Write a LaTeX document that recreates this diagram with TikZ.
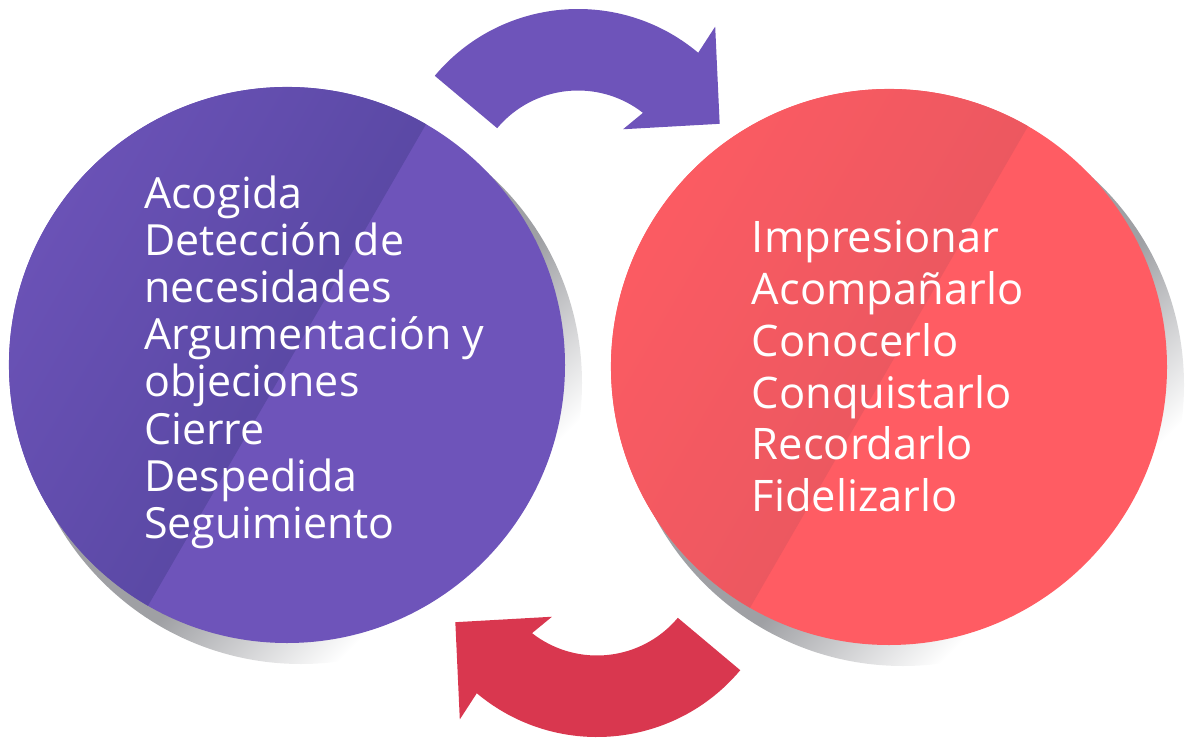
\documentclass[tikz,border=0pt]{standalone}
\usepackage{fontspec}
\setmainfont{Open Sans}
\usetikzlibrary{calc}

\definecolor{violetmain}{HTML}{6E54BA}
\definecolor{violetdark}{HTML}{52449C}
\definecolor{coralmain}{HTML}{FF5C63}
\definecolor{coraldark}{HTML}{E4565F}
\definecolor{crimsonarrow}{HTML}{D9374F}
\definecolor{shadowgray}{HTML}{9FA0A4}

\pgfdeclareverticalshading{shadowfade}{100bp}{color(0bp)=(white); color(30bp)=(white); color(44bp)=(shadowgray); color(100bp)=(shadowgray)}

\tikzset{every picture/.style={line width=0.75pt}}
\tikzset{
  discshadow/.style={shading=shadowfade, shading angle=45},
  listtext/.style={anchor=north west, inner sep=0pt, align=left, text=white},
}

\begin{document}
\begin{tikzpicture}[x=0.75pt,y=0.75pt,yscale=-1,xscale=1]
		\useasboundingbox (0,0) rectangle (1200,749);
		
		\coordinate (lc) at (287,365);
		\coordinate (rc) at (889,367);
		\coordinate (ta) at (578,196);
		\coordinate (ba) at (597,550);
		
		%Shape: Shadows
		\shade [discshadow] ($(lc)+(14,18)$) circle [radius=281];
		\shade [discshadow] ($(rc)+(14,18)$) circle [radius=281];
		
		%Shape: Circle left
		\fill [violetmain] (lc) circle [radius=278];
		\shade [top color=violetmain, bottom color=violetdark, shading angle=60] ($(lc)+(-60:278)$) arc [start angle=-60, end angle=-240, radius=278] -- cycle;
		%Shape: Circle right
		\fill [coralmain] (rc) circle [radius=278];
		\shade [top color=coralmain, bottom color=coraldark, shading angle=60] ($(rc)+(-60:278)$) arc [start angle=-60, end angle=-240, radius=278] -- cycle;
		
		%Shape: Arc arrow top
		\fill [violetmain] ($(ta)+(-140:187)$) arc [start angle=-140, end angle=-50, radius=187] -- ($(ta)+(-51:218)$) -- ($(ta)+(-27:159)$) -- ($(ta)+(-56:80.5)$) -- ($(ta)+(-52:105.5)$) arc [start angle=-52, end angle=-140, radius=105.5] -- cycle;
		%Shape: Arc arrow bottom
		\fill [crimsonarrow] ($(ba)+(40:187)$) arc [start angle=40, end angle=130, radius=187] -- ($(ba)+(129:218)$) -- ($(ba)+(153:159)$) -- ($(ba)+(124:80.5)$) -- ($(ba)+(128:105.5)$) arc [start angle=128, end angle=40, radius=105.5] -- cycle;
		
		\node [listtext, font=\fontsize{32.2}{35.3}\selectfont] (steps) at (143.7,175.6) {Acogida\\Detección de\\necesidades\\Argumentación y\\objeciones\\Cierre\\Despedida\\Seguimiento};
		\node [listtext, font=\fontsize{32.6}{38.85}\selectfont] (goals) at (751.4,220.3) {Impresionar\\Acompañarlo\\Conocerlo\\Conquistarlo\\Recordarlo\\Fidelizarlo};
		
\end{tikzpicture}
\end{document}
